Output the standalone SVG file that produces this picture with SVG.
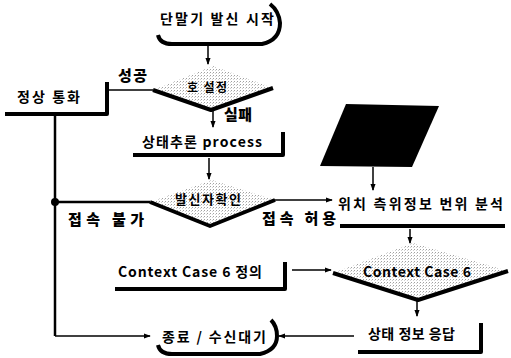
<svg xmlns="http://www.w3.org/2000/svg" width="511" height="358" viewBox="0 0 511 358">
<style>
.t{font-family:"Noto Sans CJK KR","Liberation Sans",sans-serif;font-size:14px;font-weight:700;fill:#000}
.b{font-family:"Noto Sans CJK KR","Liberation Sans",sans-serif;font-size:15px;font-weight:900;fill:#000}
.sh{fill:none;stroke:#000;stroke-width:4;stroke-linejoin:round}
.ln{fill:none;stroke:#000;stroke-width:1.5}
.lnb{fill:none;stroke:#000;stroke-width:2.5}
.dia{fill:url(#dots);stroke:none}
</style>
<defs>
<pattern id="dots" width="3" height="3" patternUnits="userSpaceOnUse">
<rect width="3" height="3" fill="#fff"/>
<rect width="1" height="1" fill="#a0a0a0"/>
<rect x="2" y="1" width="1" height="1" fill="#d0d0d0"/>
</pattern>
<marker id="ah" viewBox="0 0 8 8" refX="7" refY="4" markerWidth="7" markerHeight="7" orient="auto" markerUnits="userSpaceOnUse">
<path d="M0,1 L8,4 L0,7 Z" fill="#000"/>
</marker>
</defs>

<g id="connectors">
<line class="ln" x1="208" y1="46" x2="208" y2="64" marker-end="url(#ah)"/>
<line class="ln" x1="153" y1="90" x2="107" y2="90"/>
<line class="ln" x1="213" y1="111" x2="213" y2="127" marker-end="url(#ah)"/>
<line class="ln" x1="209" y1="158" x2="209" y2="179" marker-end="url(#ah)"/>
<line class="lnb" x1="150" y1="202" x2="55" y2="202"/>
<line class="lnb" x1="55" y1="114" x2="55" y2="336"/>
<circle cx="55" cy="202" r="4" fill="#000"/>
<line class="ln" x1="55" y1="336" x2="150" y2="336" marker-end="url(#ah)"/>
<line class="ln" x1="272" y1="200" x2="332" y2="200" marker-end="url(#ah)"/>
<line class="ln" x1="373" y1="167" x2="373" y2="190" marker-end="url(#ah)"/>
<line class="ln" x1="410" y1="229" x2="410" y2="243" marker-end="url(#ah)"/>
<line class="ln" x1="292" y1="270" x2="331" y2="270" marker-end="url(#ah)"/>
<line class="ln" x1="417" y1="300" x2="417" y2="316" marker-end="url(#ah)"/>
<line class="ln" x1="354" y1="336" x2="279" y2="336" marker-end="url(#ah)"/>
</g>

<g id="start">
<path class="sh" d="M158,35 Q160,44 172,44 L262,44 Q280,40 280,23 Q279,11 270,4"/>
<text class="t" x="160" y="24" textLength="114" lengthAdjust="spacing">단말기 발신 시작</text>
</g>

<g id="call-setup">
<polygon class="dia" points="153,90 213,66 273,88 211,110"/>
<path class="sh" d="M153,90 L211,110 L273,88"/>
<text class="t" x="187" y="92" style="font-size:12px" textLength="40" lengthAdjust="spacing">호 설정</text>
<text class="b" x="118" y="81" textLength="29" lengthAdjust="spacing">성공</text>
<text class="b" x="224" y="120" textLength="28" lengthAdjust="spacing">실패</text>
</g>

<g id="normal-call">
<path class="sh" d="M5,114 L107,114 L107,82"/>
<text class="t" x="17" y="102" textLength="63" lengthAdjust="spacing">정상 통화</text>
</g>

<g id="state-inference">
<path class="sh" d="M133,155 L283,155 L283,132"/>
<text class="t" x="142" y="147" textLength="120" lengthAdjust="spacing">상태추론 process</text>
</g>

<g id="caller-check">
<polygon class="dia" points="150,202 212,180 275,200 210,226"/>
<path class="sh" d="M150,202 L210,226 L275,200"/>
<text class="t" x="175" y="204" style="font-size:13px" textLength="66" lengthAdjust="spacing">발신자확인</text>
<text class="b" x="68" y="225" textLength="76" lengthAdjust="spacing">접속 불가</text>
<text class="b" x="262" y="224" textLength="74" lengthAdjust="spacing">접속 허용</text>
</g>

<g id="data-input">
<polygon points="346,104 439,106 412,167 320,166" fill="#000"/>
</g>

<g id="location-analysis">
<path class="sh" d="M340,226 L505,226"/>
<text class="t" x="338" y="209" textLength="165" lengthAdjust="spacing">위치 측위정보 번위 분석</text>
</g>

<g id="case6-define">
<path class="sh" d="M115,289 L285,289 L285,262"/>
<text class="t" x="118" y="277" textLength="144" lengthAdjust="spacing">Context Case 6 정의</text>
</g>

<g id="case6">
<polygon class="dia" points="333,273 413,243 508,271 418,300"/>
<path class="sh" d="M333,273 L418,300 L508,271"/>
<text class="t" x="363" y="277" textLength="108" lengthAdjust="spacing">Context Case 6</text>
</g>

<g id="state-response">
<path class="sh" d="M358,352 L481,352 L481,323"/>
<text class="t" x="368" y="339" textLength="87" lengthAdjust="spacing">상태 정보 응답</text>
</g>

<g id="end">
<path class="sh" d="M158,345 Q160,354 172,354 L260,354 Q277,350 277,336 Q277,326 271,320"/>
<text class="t" x="162" y="342" textLength="104" lengthAdjust="spacing">종료 / 수신대기</text>
</g>
</svg>
